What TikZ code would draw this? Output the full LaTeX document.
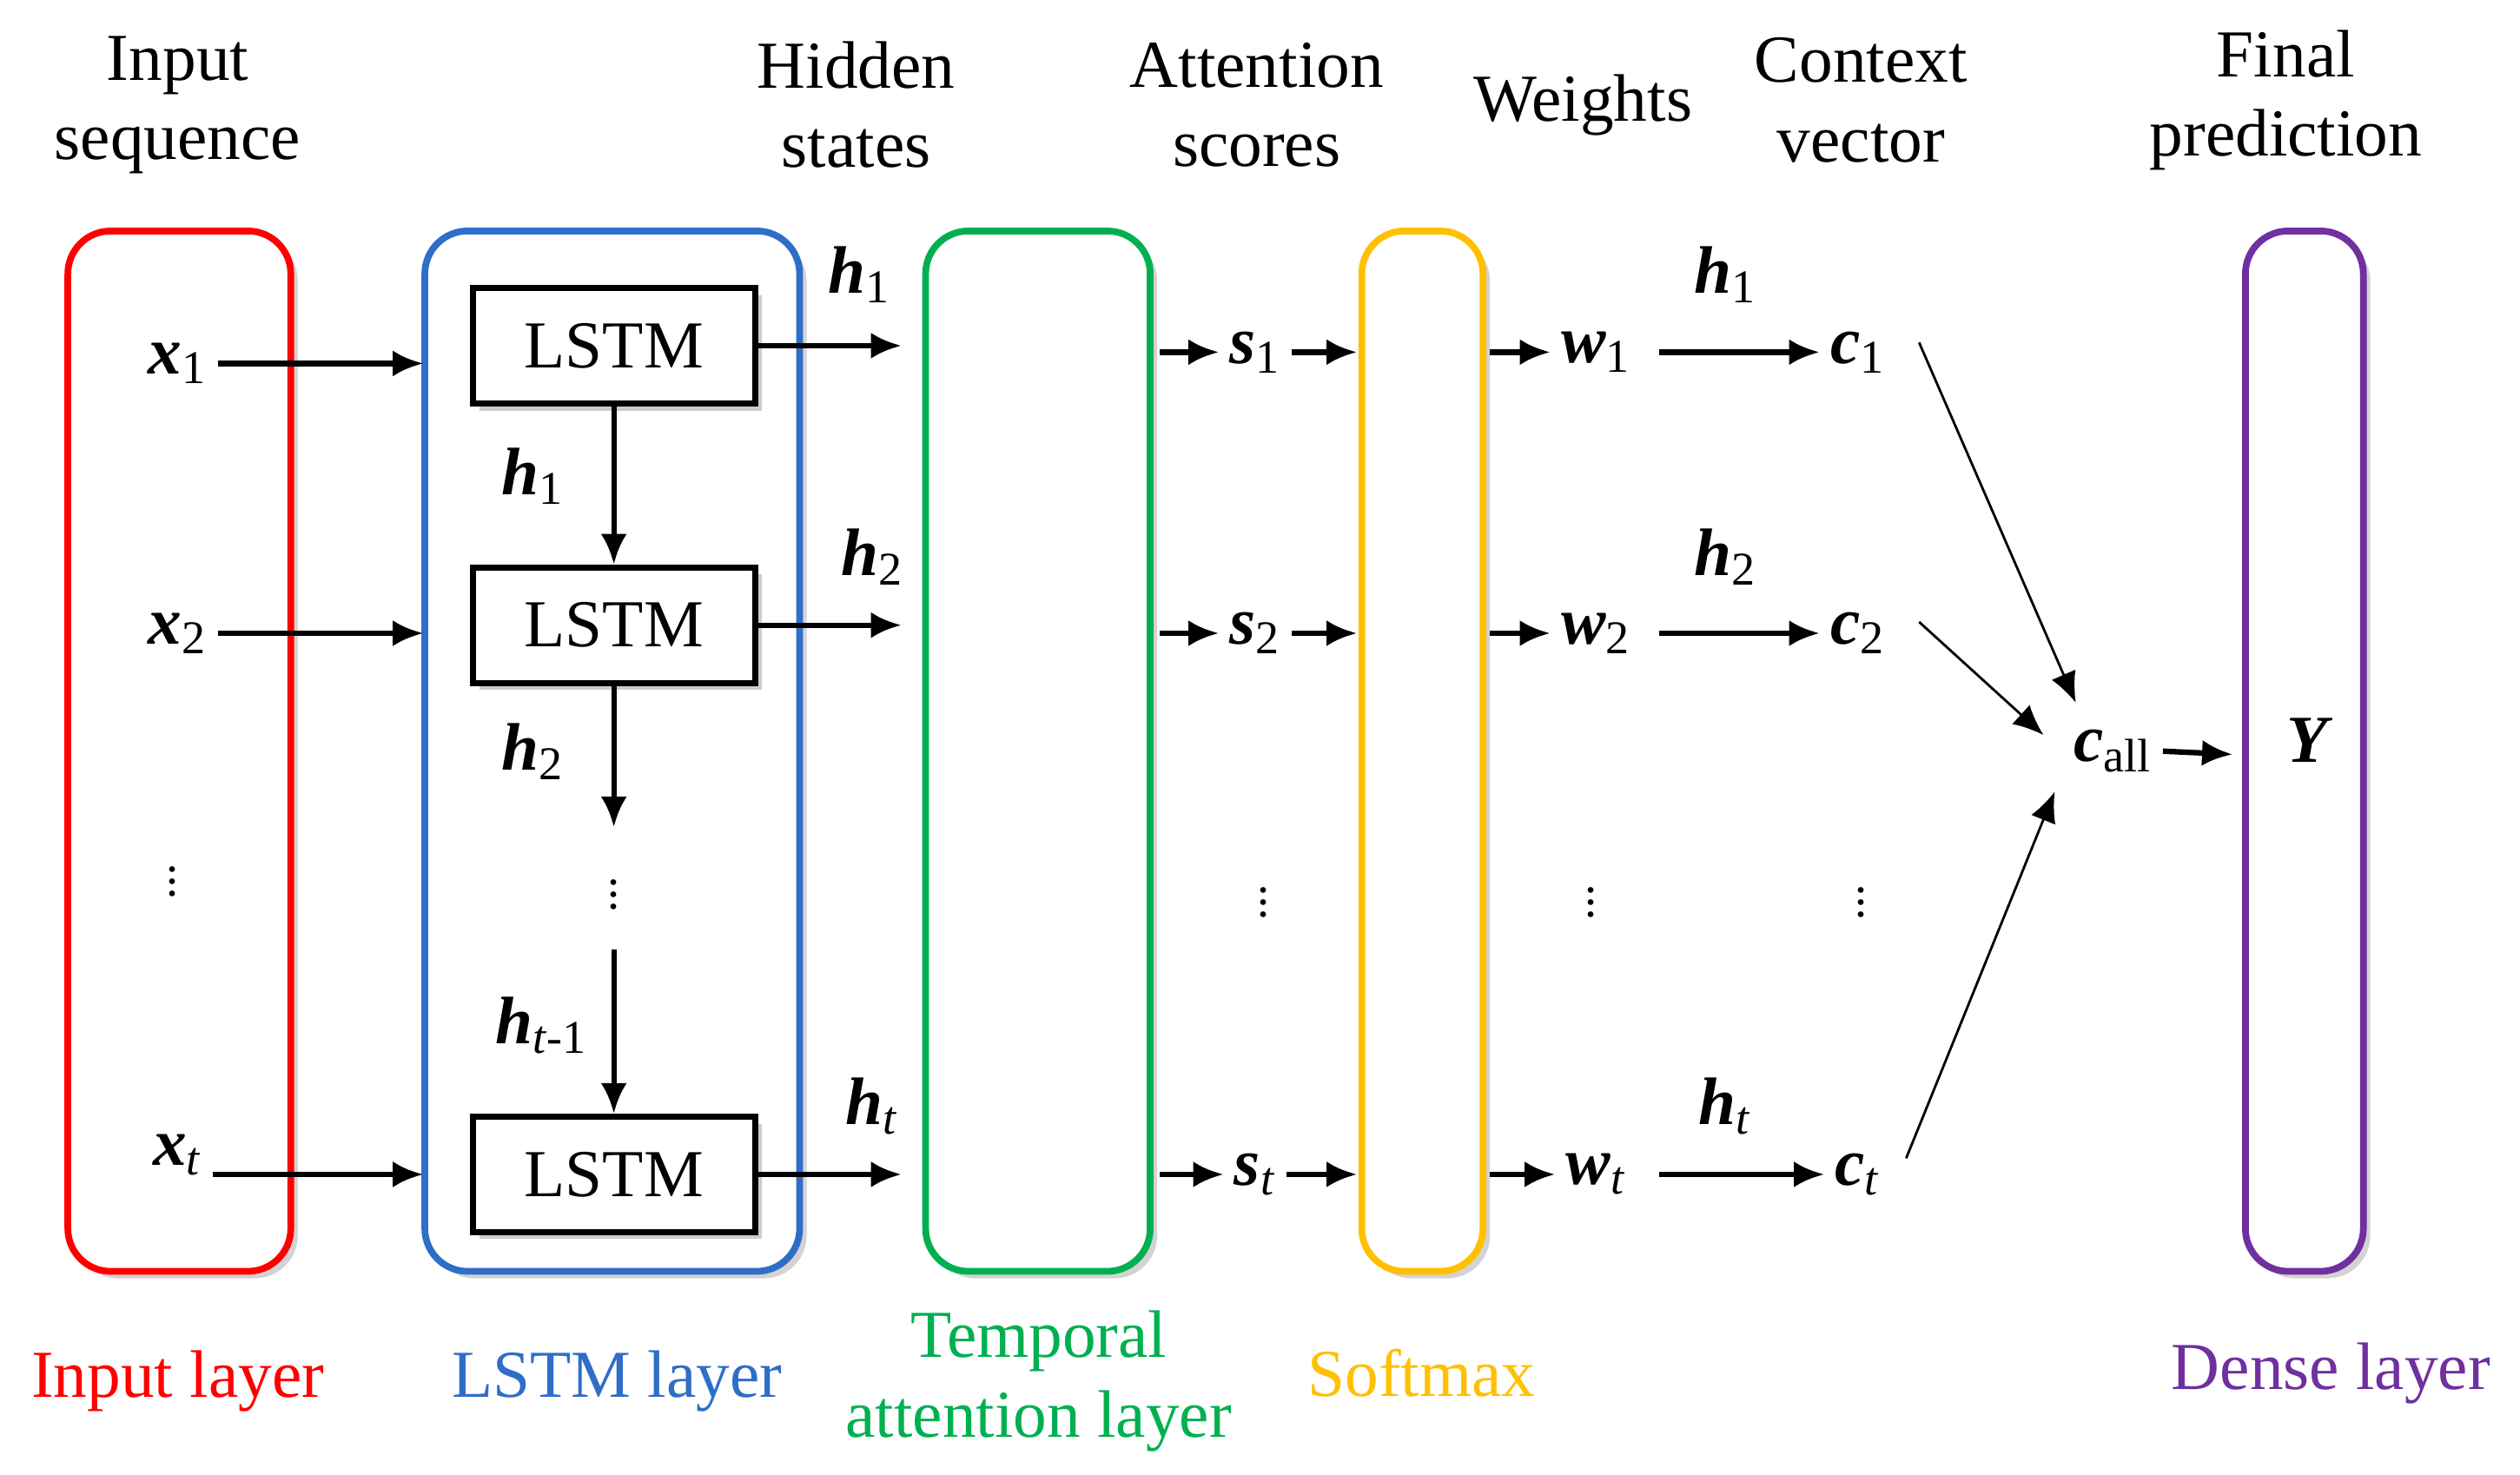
\documentclass[tikz,border=0pt]{standalone}
\usepackage{fontspec}
\setmainfont{Liberation Serif}
\usetikzlibrary{arrows.meta, positioning, shadows}
\definecolor{inred}{RGB}{255,0,0}
\definecolor{lsblue}{RGB}{46,110,200}
\definecolor{atgreen}{RGB}{0,176,80}
\definecolor{smyellow}{RGB}{255,192,0}
\definecolor{dnpurple}{RGB}{112,48,160}
\newcommand{\vb}[2]{\textbf{\textit{#1}}\textsubscript{#2}}
\begin{document}
\begin{tikzpicture}[x=0.0186cm, y=-0.0186cm,
    lay/.style={draw=#1, line width=2.2pt, rounded corners=14pt, drop shadow={opacity=0.35}, fill=white},
    cell/.style={draw, line width=2pt, fill=white, minimum width=3.25cm, minimum height=1.33cm, drop shadow={opacity=0.4}, font=\fontsize{22}{24}\selectfont},
    txt/.style={font=\fontsize{22}{26}\selectfont, align=center},
    var/.style={font=\fontsize{22}{24}\selectfont},
    dots/.style={font=\fontsize{16}{18}\selectfont, inner sep=0pt},
    arr/.style={-{Latex[length=3.5mm, width=3mm]}, line width=1.8pt},
    thin/.style={-{Latex[length=3.5mm, width=3mm]}, line width=0.8pt}]
\useasboundingbox (0,0) rectangle (1560,913);
% layers
\draw[lay=inred] (42,143) rectangle (180,787);
\draw[lay=lsblue] (263,143) rectangle (495,787);
\draw[lay=atgreen] (573,143) rectangle (712,787);
\draw[lay=smyellow] (843,143) rectangle (918,787);
\draw[lay=dnpurple] (1390,143) rectangle (1463,787);
% lstm cells
\node[cell] (l1) at (380,214) {LSTM};
\node[cell] (l2) at (380,387) {LSTM};
\node[cell] (l3) at (380,727) {LSTM};
% inputs
\node[var] (x1) at (110,225) {\vb{x}{1}};
\node[var] (x2) at (110,392) {\vb{x}{2}};
\node[var] (xt) at (110,715) {\vb{x}{\textit{t}}};
\node[dots] at (107,540) {$\vdots$};
\coordinate (e1) at (262,225);
\coordinate (e2) at (262,392);
\coordinate (e3) at (262,727);
\draw[arr] (x1.east) -- (e1);
\draw[arr] (x2.east) -- (e2);
\draw[arr] (xt.east |- e3) -- (e3);
% vertical chain
\coordinate (c2) at (380,512);
\coordinate (c3) at (380,588);
\draw[arr] (l1) -- (l2);
\draw[arr] (l2) -- (c2);
\draw[arr] (c3) -- (l3);
\node[var] at (330,295) {\vb{h}{1}};
\node[var] at (330,465) {\vb{h}{2}};
\node[dots] at (380,548) {$\vdots$};
\node[var] at (335,635) {\vb{h}{\textit{t}-1}};
% hidden states
\coordinate (a1) at (558,214);
\coordinate (a2) at (558,387);
\coordinate (a3) at (558,727);
\draw[arr] (l1.east) -- (a1);
\draw[arr] (l2.east) -- (a2);
\draw[arr] (l3.east) -- (a3);
\node[var] at (532,170) {\vb{h}{1}};
\node[var] at (540,345) {\vb{h}{2}};
\node[var] at (540,685) {\vb{h}{\textit{t}}};
% scores, weights, context
\foreach \i/\y/\s in {1/218/1, 2/392/2, t/727/\textit{t}} {
  \node[var] (s\i) at (777,\y) {\vb{s}{\s}};
  \node[var] (w\i) at (988,\y) {\vb{w}{\s}};
  \node[var] (c\i) at (1150,\y) {\vb{c}{\s}};
  \coordinate (p\i) at (718,\y);
  \coordinate (q\i) at (840,\y);
  \coordinate (r\i) at (922,\y);
  \draw[arr] (p\i) -- (s\i.west);
  \draw[arr] (s\i.east) -- (q\i);
  \draw[arr] (r\i) -- (w\i.west);
  \draw[arr] (1027,\y) -- (c\i.west);
}
\node[var] at (1068,170) {\vb{h}{1}};
\node[var] at (1068,345) {\vb{h}{2}};
\node[var] at (1068,685) {\vb{h}{\textit{t}}};
\node[dots] at (782,553) {$\vdots$};
\node[dots] at (985,553) {$\vdots$};
\node[dots] at (1152,553) {$\vdots$};
% combine
\node[var] (call) at (1308,465) {\vb{c}{all}};
\node[var] (Y) at (1430,458) {\textbf{\textit{Y}}};
\draw[thin] (1188,212) -- (1285,435);
\draw[thin] (1188,385) -- (1265,455);
\draw[thin] (1180,717) -- (1272,490);
\draw[arr] (call.east) -- (1382,467);
% titles
\node[txt] at (110,65) {Input\\sequence};
\node[txt] at (530,65) {Hidden\\states};
\node[txt] at (778,65) {Attention\\scores};
\node[txt] at (980,65) {Weights};
\node[txt] at (1152,62) {Context\\vector};
\node[txt] at (1415,62) {Final\\prediction};
\node[txt, text=inred] at (110,855) {Input layer};
\node[txt, text=lsblue] at (382,855) {LSTM layer};
\node[txt, text=atgreen] at (643,855) {Temporal\\attention layer};
\node[txt, text=smyellow] at (880,850) {Softmax};
\node[txt, text=dnpurple] at (1443,850) {Dense layer};
\end{tikzpicture}
\end{document}
